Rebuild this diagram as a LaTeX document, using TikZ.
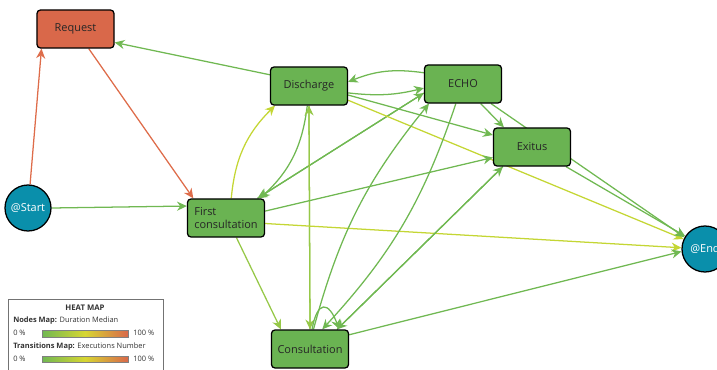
\documentclass[tikz,border=0pt]{standalone}
\usepackage{fontspec}
\setmainfont{Open Sans}
\usetikzlibrary{arrows.meta, positioning, backgrounds}
\definecolor{boxgreen}{RGB}{106,179,82}
\definecolor{boxred}{RGB}{217,104,74}
\definecolor{tealend}{RGB}{10,143,171}
\definecolor{flowgreen}{RGB}{112,184,82}
\definecolor{flowlime}{RGB}{150,200,72}
\definecolor{flowyellow}{RGB}{196,214,52}
\definecolor{flowred}{RGB}{222,108,74}
\tikzset{>={Stealth[length=7pt,width=6.5pt]}, % filled triangular arrow heads
activity/.style={draw=black, line width=0.9pt, rounded corners=2.5pt, fill=boxgreen, minimum width=1.925cm, minimum height=0.95cm, text=black!85, font=\fontsize{7.8}{9}\selectfont}, % green process boxes
hotspot/.style={activity, fill=boxred}, % the slow box
terminal/.style={circle, draw=black, line width=0.9pt, fill=tealend, minimum size=1.15cm, inner sep=0pt, text=white, font=\fontsize{7.8}{9}\selectfont}, % start and end circles
flow/.style={->, line width=0.9pt, draw=flowgreen}, % frequent transitions
weak/.style={flow, draw=flowlime},
rare/.style={flow, draw=flowyellow},
hot/.style={flow, draw=flowred},
legendtext/.style={font=\fontsize{5.3}{6}\selectfont, inner sep=0pt, anchor=west, text=black!80},
}
\begin{document}
\begin{tikzpicture}[x=0.025cm, y=-0.025cm]
    \useasboundingbox (0,0) rectangle (717,369);
    \node[terminal] (start) at (28,208) {@Start};
    \node[terminal] (end) at (705,249) {@End};
    \node[hotspot] (request) at (75.5,29) {Request};
    \node[activity, align=left] (first) at (226,218) {First\\consultation};
    \node[activity] (discharge) at (309,86) {Discharge};
    \node[activity] (echo) at (463,84) {ECHO};
    \node[activity] (exitus) at (532,147) {Exitus};
    \node[activity] (consult) at (310,349) {Consultation};
    \begin{scope}[on background layer]
    \draw[hot] (start.85) -- (request.210);
    \draw[hot] (request.-56) -- (first.149);
    \draw[flow] (start.east) -- (first.163);
    \draw[flow] (discharge.164) -- (request.-19);
    \draw[rare] (first.75) to[bend left=20] (discharge.-150);
    \draw[flow] (discharge.-95) to[bend left=20] (first.30);
    \draw[flow] (echo.193) -- (first.32);
    \draw[flow] (first.32) -- (echo.193);
    \draw[weak] (discharge.-90) -- (consult.90);
    \draw[weak] (consult.90) -- (discharge.-90);
    \draw[flow] (echo.164) to[bend right=15] (discharge.6);
    \draw[flow] (discharge.-10) to[bend right=10] (echo.186);
    \draw[flow] (discharge.-13) -- (exitus.163);
    \draw[rare] (discharge.-20) -- (end.155);
    \draw[flow] (echo.-48) -- (exitus.145);
    \draw[flow] (echo.-35) -- (end.150);
    \draw[flow] (exitus.-30) -- (end.147);
    \draw[flow] (first.10) -- (exitus.-165);
    \draw[rare] (first.-8) -- (end.177);
    \draw[weak] (first.-62) -- (consult.146);
    \draw[flow] (consult.20) -- (end.186);
    \draw[flow] (consult.36) -- (exitus.-146);
    \draw[flow] (exitus.-146) -- (consult.36);
    \draw[flow] (consult.80) to[bend left=12] (echo.-150);
    \draw[flow] (echo.-110) to[bend left=12] (consult.58);
    \draw[flow] (consult.84) to[out=80,in=110,distance=0.75cm] (consult.34);
    \end{scope}
    % heat map legend
    \draw[black!55, fill=white] (8,299) rectangle (163,380);
    \node[font=\fontsize{5.5}{6}\selectfont\bfseries, text=black!80] (heat) at (85,308) {HEAT MAP};
    \node[legendtext] (nodesmap) at (13,321) {\textbf{Nodes Map:} Duration Median};
    \node[legendtext] (zeroa) at (13,333) {0 \%};
    \shade[left color=flowgreen, right color=boxred, middle color={rgb,255:red,215;green,214;blue,50}] (42,330) rectangle (128,337);
    \draw[black!50, line width=0.3pt] (42,330) rectangle (128,337);
    \node[legendtext] (fulla) at (133,333) {100 \%};
    \node[legendtext] (transmap) at (13,347) {\textbf{Transitions Map:} Executions Number};
    \node[legendtext] (zerob) at (13,359) {0 \%};
    \shade[left color=flowgreen, right color=boxred, middle color={rgb,255:red,215;green,214;blue,50}] (42,356) rectangle (128,362);
    \draw[black!50, line width=0.3pt] (42,356) rectangle (128,362);
    \node[legendtext] (fullb) at (133,359) {100 \%};
\end{tikzpicture}
\end{document}
